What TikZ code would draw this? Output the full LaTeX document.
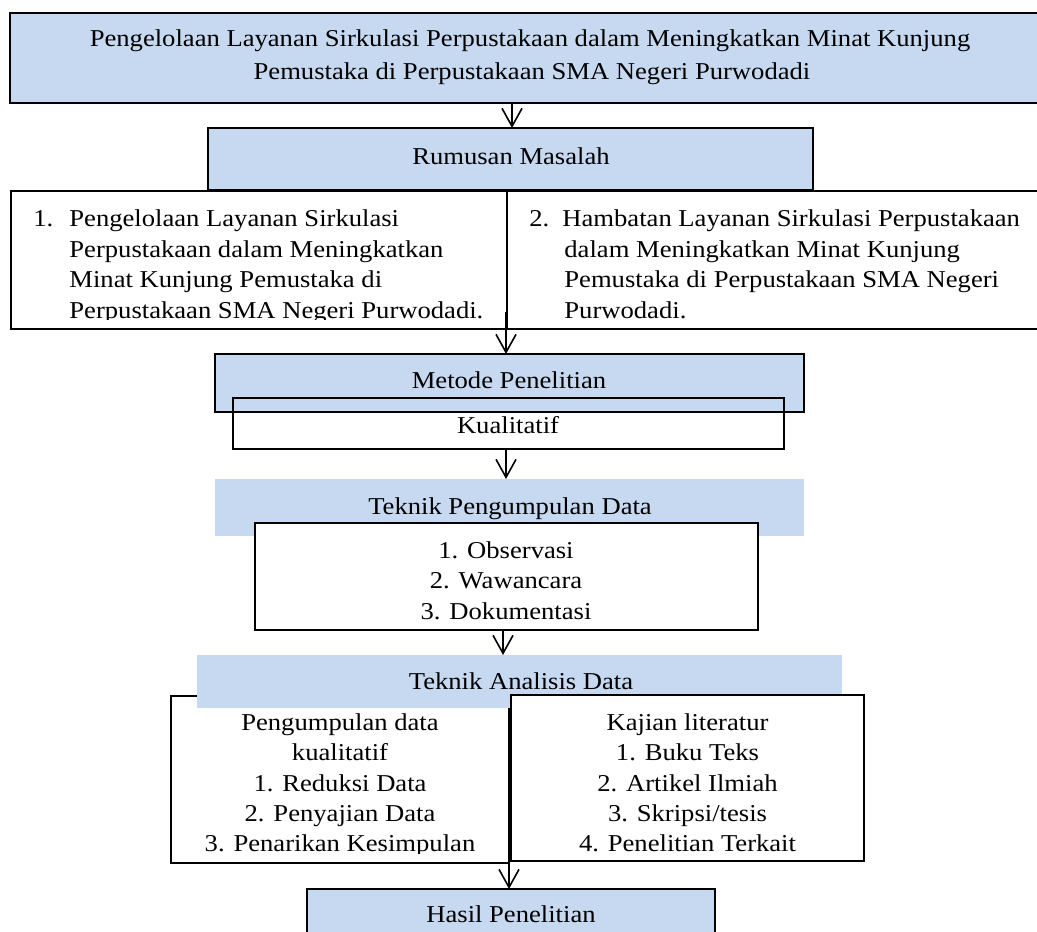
\documentclass[tikz,border=0pt]{standalone}
\usepackage{fontspec}
\setmainfont{Liberation Serif}[FakeStretch=1.10]
\usetikzlibrary{arrows.meta,fit}
\definecolor{boxblue}{RGB}{198,217,241}
\begin{document}
\begin{tikzpicture}[x=0.5pt,y=-0.5pt,
  bx/.style={inner sep=0pt, outer sep=0pt, line width=0.6pt},
  bluebox/.style={bx, draw=black, fill=boxblue},
  bandbox/.style={bx, fill=boxblue},
  whitebox/.style={bx, draw=black, fill=white},
  openbox/.style={bx, draw=black},
  txt/.style={inner sep=0pt, font=\fontsize{12.1pt}{15pt}\selectfont, anchor=base},
  txtl/.style={txt, anchor=base west},
  arr/.style={line width=0.8pt, -{Straight Barb[length=9pt,width=10pt]}}
]
\useasboundingbox (0,0) rectangle (1037,931);
\clip (0,0) rectangle (1037,931);

% --- title box
\node[bluebox, fit={(10,13) (1050,103)}] (top) {};
\node[txt] (top1) at (530,47) {Pengelolaan Layanan Sirkulasi Perpustakaan dalam Meningkatkan Minat Kunjung};
\node[txt] (top2) at (532,80) {Pemustaka di Perpustakaan SMA Negeri Purwodadi};

% --- Rumusan Masalah
\node[bluebox, fit={(208,128) (813,190)}] (rum) {};
\node[txt] (rumt) at (511,164) {Rumusan Masalah};

% --- two problem boxes
\node[openbox, fit={(11,191) (507,329)}] (rl) {};
\node[openbox, fit={(507,191) (1050,329)}] (rr) {};
\begin{scope}
  \clip (11,191) rectangle (1050,319.5);
  \node[txtl] (rln) at (33,226.5) {1.};
  \foreach \t [count=\i] in {Pengelolaan Layanan Sirkulasi,Perpustakaan dalam Meningkatkan,Minat Kunjung Pemustaka di,Perpustakaan SMA Negeri Purwodadi.}
    \node[txtl] (rlt\i) at (69,{226.5+30.5*(\i-1)}) {\t};
  \node[txtl] (rrn) at (529,226.5) {2.};
  \node[txtl] (rrt1) at (562,226.5) {Hambatan Layanan Sirkulasi Perpustakaan};
  \foreach \t [count=\i from 2] in {dalam Meningkatkan Minat Kunjung,Pemustaka di Perpustakaan SMA Negeri,Purwodadi.}
    \node[txtl] (rrt\i) at (564,{226.5+30.5*(\i-1)}) {\t};
\end{scope}

% --- Metode Penelitian
\node[bluebox, fit={(215,354) (804,412)}] (met) {};
\node[openbox, fit={(233,398) (784,449)}] (kual) {};
\node[txt] (mett) at (509,388) {Metode Penelitian};
\node[txt] (kualt) at (508,433) {Kualitatif};

% --- Teknik Pengumpulan Data
\node[bandbox, fit={(215,479) (804,536)}] (tpd) {};
\node[txt] (tpdt) at (510,514) {Teknik Pengumpulan Data};
\node[whitebox, fit={(255,523) (758,630)}] (obs) {};
\foreach \t [count=\i] in {1. Observasi,2. Wawancara,3. Dokumentasi}
  \node[txt] (obs\i) at (506,{558+30.5*(\i-1)}) {\t};

% --- Teknik Analisis Data
\node[whitebox, fit={(171,696) (509,863)}] (tal) {};
\node[bandbox, fit={(197,655) (842,708)}] (tad) {};
\node[txt] (tadt) at (521,689) {Teknik Analisis Data};
\node[whitebox, fit={(511,695) (864,861)}] (tar) {};
\begin{scope}
  \clip (171,708) rectangle (864,853);
  \foreach \t [count=\i] in {Pengumpulan data,kualitatif,1. Reduksi Data,2. Penyajian Data,3. Penarikan Kesimpulan}
    \node[txt] (tal\i) at (340,{730.5+30.3*(\i-1)}) {\t};
  \foreach \t [count=\i] in {Kajian literatur,1. Buku Teks,2. Artikel Ilmiah,3. Skripsi/tesis,4. Penelitian Terkait}
    \node[txt] (tar\i) at (687.5,{730.5+30.3*(\i-1)}) {\t};
\end{scope}

% --- Hasil Penelitian
\node[bluebox, fit={(307,889) (715,955)}] (has) {};
\node[txt] (hast) at (511,922) {Hasil Penelitian};

% --- connectors
\coordinate (c1) at (512,103);
\draw[arr] (c1) -- (c1 |- rum.north);
\coordinate (c2) at (506,312);
\draw[arr] (c2) -- (c2 |- met.north);
\coordinate (c3) at (506,449);
\draw[arr] (c3) -- (c3 |- tpd.north);
\coordinate (c4) at (503,630);
\draw[arr] (c4) -- (c4 |- tad.north);
\coordinate (c5) at (509,845);
\draw[arr] (c5) -- (c5 |- has.north);
\end{tikzpicture}
\end{document}
